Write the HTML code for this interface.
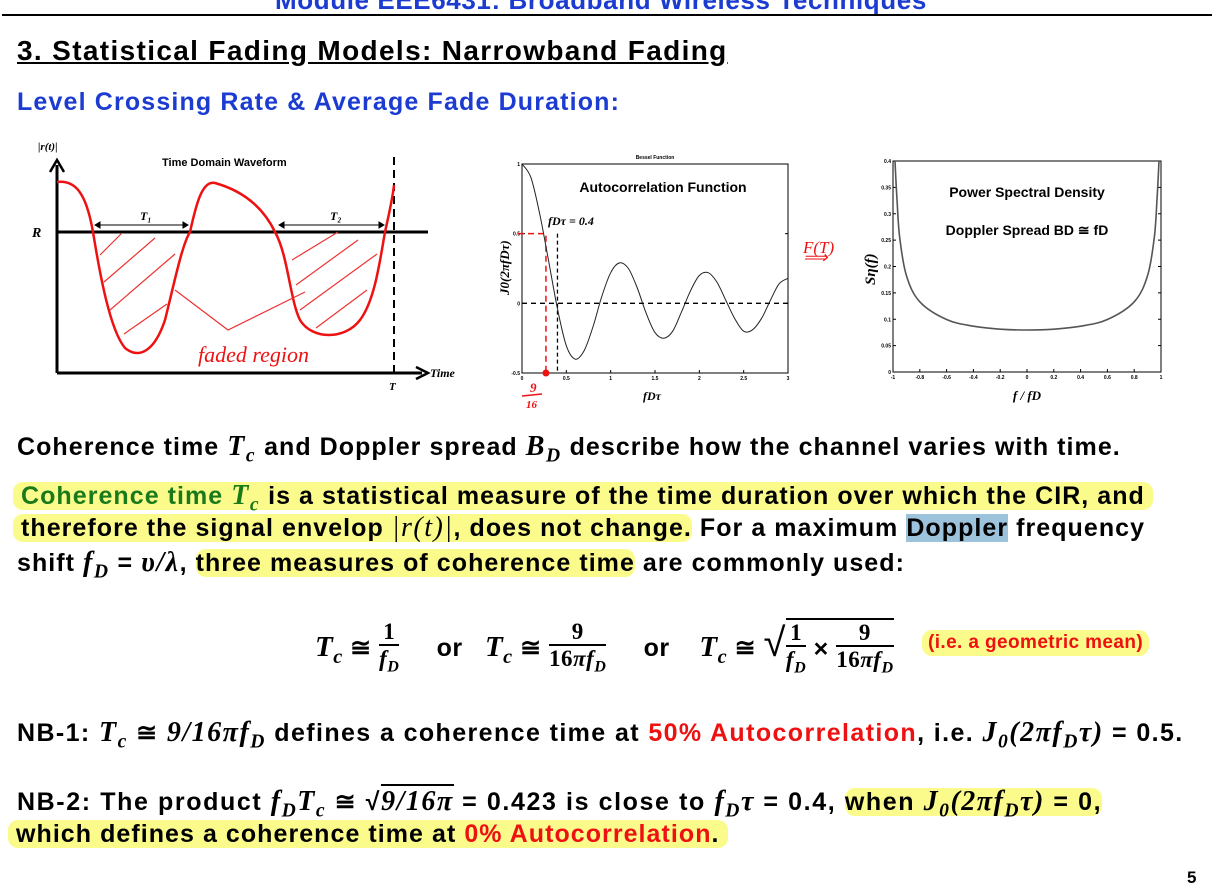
<!DOCTYPE html>
<html><head><meta charset="utf-8"><style>
body{margin:0;width:1214px;height:891px;background:#fff;position:relative;overflow:hidden;font-family:"Liberation Sans",Arial,sans-serif;font-weight:bold;color:#000}
.t{position:absolute;white-space:nowrap}
.b{font-size:25px;letter-spacing:1.05px}
.m{font-family:"Liberation Serif",serif;font-style:italic;font-weight:bold}
.b .m{font-size:1.12em;letter-spacing:1.5px}
.hl{background:#fbfb8c;border-radius:10px}
.g{color:#1a7a1a}.r{color:#ee1111}
sub{font-size:70%}
.frac{display:inline-block;vertical-align:middle;text-align:center;font-family:"Liberation Serif",serif;font-weight:bold;font-size:23px;line-height:25px}
.frac span{display:block}
.frac .n{border-bottom:2px solid #000;padding:0 3px}
</style></head><body>
<div class="t" style="left:275px;top:-15px;font-size:26px;letter-spacing:0.6px;color:#1b3bd1">Module EEE6431: Broadband Wireless Techniques</div>
<div style="position:absolute;left:2px;top:14px;width:1210px;height:2px;background:#000"></div>
<div class="t" style="left:17px;top:35px;font-size:28px;letter-spacing:1.35px;text-decoration:underline">3. Statistical Fading Models: Narrowband Fading</div>
<div class="t" style="left:17px;top:88px;font-size:25px;letter-spacing:1.15px;color:#1b3bd1">Level Crossing Rate &amp; Average Fade Duration:</div>

<svg style="position:absolute;left:0;top:135px" width="480" height="280" viewBox="0 135 480 280">
<text x="38" y="150" font-family="Liberation Serif" font-style="italic" font-weight="bold" font-size="11">|r(t)|</text>
<text x="162" y="166" font-size="11" font-weight="bold" font-family="Liberation Sans">Time Domain Waveform</text>
<line x1="57" y1="373" x2="57" y2="165" stroke="#000" stroke-width="3"/>
<path d="M50,172 L57,160 L64,172" fill="none" stroke="#000" stroke-width="2.5"/>
<line x1="57" y1="373" x2="422" y2="373" stroke="#000" stroke-width="3"/>
<path d="M416,367 L428,373 L416,379" fill="none" stroke="#000" stroke-width="2.5"/>
<text x="430" y="377" font-family="Liberation Serif" font-style="italic" font-weight="bold" font-size="12">Time</text>
<text x="389" y="390" font-family="Liberation Serif" font-style="italic" font-weight="bold" font-size="11">T</text>
<line x1="57" y1="232" x2="428" y2="232" stroke="#000" stroke-width="3"/>
<text x="32" y="237" font-family="Liberation Serif" font-style="italic" font-weight="bold" font-size="14">R</text>
<line x1="394" y1="157" x2="394" y2="378" stroke="#000" stroke-width="2" stroke-dasharray="8,5"/>
<g stroke="#000" stroke-width="1" fill="#000">
<line x1="95" y1="225" x2="188" y2="225"/><path d="M95,225 l5,-3 v6z M188,225 l-5,-3 v6z"/>
<line x1="279" y1="225" x2="384" y2="225"/><path d="M279,225 l5,-3 v6z M384,225 l-5,-3 v6z"/>
</g>
<text x="140" y="220" font-family="Liberation Serif" font-style="italic" font-weight="bold" font-size="12">T₁</text>
<text x="330" y="220" font-family="Liberation Serif" font-style="italic" font-weight="bold" font-size="12">T₂</text>
<path d="M57,182 C75,180 86,192 93,232 C100,275 110,330 125,348 C140,360 155,350 165,320 C175,280 182,245 190,232 C196,205 202,180 215,183 C240,190 262,205 275,232 C288,255 290,300 300,320 C312,340 345,340 360,320 C375,300 380,260 385,232 C390,210 393,195 394,185" fill="none" stroke="#ee1111" stroke-width="2.5"/>
<g stroke="#ee3333" stroke-width="1.2" fill="none">
<path d="M100,255 L122,233"/><path d="M104,282 L155,238"/><path d="M110,310 L175,254"/><path d="M124,334 L167,304"/>
<path d="M292,260 L338,232"/><path d="M296,285 L358,240"/><path d="M300,310 L377,254"/><path d="M316,328 L367,290"/>
<path d="M175,290 L228,330 L305,292"/>
</g>
<text x="198" y="362" font-family="Liberation Serif" font-style="italic" font-size="22" fill="#ee1111" font-weight="normal">faded region</text>
</svg>

<svg id="acf" style="position:absolute;left:490px;top:150px" width="330" height="260"></svg>
<svg id="psd" style="position:absolute;left:840px;top:150px" width="340" height="260"></svg>
<div class="t" style="left:803px;top:238px;font-size:17px;color:#ee1111;font-family:'Liberation Serif',serif;font-weight:normal;font-style:italic">F(T)<br><span style="position:relative;top:-10px">⟹</span></div>

<div class="t b" style="left:17px;top:431px">Coherence time <span class="m">T<sub>c</sub></span> and Doppler spread <span class="m">B<sub>D</sub></span> describe how the channel varies with time.</div>
<div class="t b" style="left:13px;top:480px"><span class="hl"><span class="g">&nbsp;Coherence time <span class="m">T<sub>c</sub></span></span> is a statistical measure of the time duration over which the CIR, and&nbsp;</span></div>
<div class="t b" style="left:13px;top:512px"><span class="hl">&nbsp;therefore the signal envelop <span class="m" style="font-weight:normal">|r(t)|</span>, does not change.</span> For a maximum <span style="background:#9dc3dc">Doppler</span> frequency</div>
<div class="t b" style="left:17px;top:547px">shift <span class="m">f<sub>D</sub></span> = <span class="m">υ/λ</span>, <span class="hl">three measures of coherence time</span> are commonly used:</div>

<div class="t" style="left:315px;top:616px;font-size:25px;line-height:54px;letter-spacing:0.5px">
<span class="m" style="font-size:29px">T<sub>c</sub></span> ≅ <span class="frac"><span class="n">1</span><span><i>f<sub>D</sub></i></span></span>
&nbsp;&nbsp;&nbsp; or &nbsp;&nbsp;<span class="m" style="font-size:29px">T<sub>c</sub></span> ≅ <span class="frac"><span class="n">9</span><span>16<i>πf<sub>D</sub></i></span></span>
&nbsp;&nbsp;&nbsp; or &nbsp;&nbsp;&nbsp;<span class="m" style="font-size:29px">T<sub>c</sub></span> ≅ <span style="font-size:40px;font-weight:normal">√</span><span style="display:inline-block;border-top:2px solid #000;vertical-align:middle"><span class="frac"><span class="n">1</span><span><i>f<sub>D</sub></i></span></span> × <span class="frac"><span class="n">9</span><span>16<i>πf<sub>D</sub></i></span></span></span>
</div>
<div class="t hl r" style="left:922px;top:630px;font-size:19px;letter-spacing:0.4px;padding:2px 6px">(i.e. a geometric mean)</div>

<div class="t b" style="left:17px;top:717px;letter-spacing:1.4px">NB-1: <span class="m">T<sub>c</sub></span> ≅ <span class="m">9/16πf<sub>D</sub></span> defines a coherence time at <span class="r">50% Autocorrelation</span>, i.e. <span class="m">J<sub>0</sub>(2πf<sub>D</sub>τ)</span> = 0.5.</div>
<div class="t b" style="left:17px;top:786px;letter-spacing:1.6px">NB-2: The product <span class="m">f<sub>D</sub>T<sub>c</sub></span> ≅ √<span style="border-top:2px solid #000" class="m">9/16π</span> = 0.423 is close to <span class="m">f<sub>D</sub>τ</span> = 0.4, <span class="hl">when <span class="m">J<sub>0</sub>(2πf<sub>D</sub>τ)</span> = 0,</span></div>
<div class="t b" style="left:8px;top:820px"><span class="hl">&nbsp;which defines a coherence time at <span class="r">0% Autocorrelation</span>.&nbsp;</span></div>
<div class="t" style="left:1187px;top:868px;font-size:17px">5</div>

<script>
const acfX=[0,0.1,0.2,0.3,0.4,0.5,0.6,0.7,0.8,0.9,1.0,1.1,1.2,1.3,1.4,1.5,1.6,1.7,1.8,1.9,2.0,2.1,2.2,2.3,2.4,2.5,2.6,2.7,2.8,2.9,3.0];
const acfY=[1,0.904,0.642,0.305,-0.04,-0.304,-0.40,-0.34,-0.17,0.05,0.22,0.29,0.25,0.11,-0.07,-0.21,-0.25,-0.20,-0.06,0.09,0.20,0.22,0.15,0.02,-0.11,-0.20,-0.19,-0.11,0.02,0.14,0.18];
const acfXTicks=["0","0.5","1","1.5","2","2.5","3"];
const acfYTicks=["-0.5","0","0.5","1"];
const psdX=[-0.985,-0.97,-0.95,-0.9,-0.8,-0.6,-0.4,-0.2,0,0.2,0.4,0.6,0.8,0.9,0.95,0.97,0.985];
const psdY=[0.40,0.327,0.255,0.183,0.133,0.0995,0.0868,0.0812,0.0796,0.0812,0.0868,0.0995,0.133,0.183,0.255,0.327,0.40];
const psdXTicks=["-1","-0.8","-0.6","-0.4","-0.2","0","0.2","0.4","0.6","0.8","1"];
const psdYTicks=["0","0.05","0.1","0.15","0.2","0.25","0.3","0.35","0.4"];
const NS='http://www.w3.org/2000/svg';
function mk(p,t,a,txt){const e=document.createElementNS(NS,t);for(const k in a)e.setAttribute(k,a[k]);if(txt!=null)e.textContent=txt;p.appendChild(e);return e;}
function smooth(P){let d='M'+P[0][0].toFixed(1)+','+P[0][1].toFixed(1);for(let i=0;i<P.length-1;i++){const p0=P[i-1]||P[i],p1=P[i],p2=P[i+1],p3=P[i+2]||p2;const c1=[p1[0]+(p2[0]-p0[0])/6,p1[1]+(p2[1]-p0[1])/6],c2=[p2[0]-(p3[0]-p1[0])/6,p2[1]-(p3[1]-p1[1])/6];d+=`C${c1[0].toFixed(1)},${c1[1].toFixed(1)} ${c2[0].toFixed(1)},${c2[1].toFixed(1)} ${p2[0].toFixed(1)},${p2[1].toFixed(1)}`;}return d;}
(function(){
const s=document.getElementById('acf');
const L=32,R=298,T=14,B=223;
const sx=v=>L+(v-0)/3*(R-L), sy=v=>B-(v+0.5)/1.5*(B-T);
mk(s,'text',{x:165,y:9,'font-size':5,'text-anchor':'middle','font-family':'Liberation Sans'},'Bessel Function');
const fr=mk(s,'rect',{x:L,y:T,width:R-L,height:B-T,fill:'none',stroke:'#000','stroke-width':1});


acfXTicks.forEach(t=>{const x=sx(+t);mk(s,'line',{x1:x,y1:B,x2:x,y2:B-3,stroke:'#000'});mk(s,'text',{x:x,y:B+7,'font-size':5,'text-anchor':'middle'},t);});
acfYTicks.forEach(t=>{const y=sy(+t);mk(s,'line',{x1:L,y1:y,x2:L+3,y2:y,stroke:'#000'});mk(s,'line',{x1:R,y1:y,x2:R-3,y2:y,stroke:'#000'});mk(s,'text',{x:L-2,y:y+2,'font-size':5,'text-anchor':'end'},t);});
mk(s,'line',{x1:L,y1:sy(0),x2:R,y2:sy(0),stroke:'#000','stroke-dasharray':'5,4','stroke-width':1.3});
mk(s,'line',{x1:sx(0.4),y1:sy(0.5),x2:sx(0.4),y2:B,stroke:'#000','stroke-dasharray':'4,3','stroke-width':1.3});
mk(s,'path',{d:`M${L-4},${sy(0.5)} L${sx(0.27)},${sy(0.5)} L${sx(0.27)},${B}`,fill:'none',stroke:'#ee1111','stroke-dasharray':'6,4','stroke-width':1.5});
mk(s,'circle',{cx:sx(0.27),cy:B,r:3.5,fill:'#ee1111'});
const ln=mk(s,'path',{d:smooth(acfX.map((x,i)=>[sx(x),sy(acfY[i])])),fill:'none',stroke:'#222','stroke-width':1});


mk(s,'text',{x:173,y:42,'font-size':14,'font-weight':'bold','text-anchor':'middle','font-family':'Liberation Sans'},'Autocorrelation Function');
mk(s,'text',{x:58,y:75,'font-size':12,'font-weight':'bold','font-family':'Liberation Serif','font-style':'italic'},'fDτ = 0.4');
mk(s,'text',{x:0,y:0,'font-size':13,'font-weight':'bold','font-family':'Liberation Serif','font-style':'italic',transform:'translate(19,145) rotate(-90)'},'J0(2πfDτ)');
mk(s,'text',{x:162,y:250,'font-size':12,'font-weight':'bold','font-family':'Liberation Serif','font-style':'italic','text-anchor':'middle'},'fDτ');
mk(s,'text',{x:40,y:242,'font-size':13,'fill':'#ee1111','font-family':'Liberation Serif','font-style':'italic'},'9');
mk(s,'line',{x1:32,y1:246,x2:52,y2:244,stroke:'#ee1111','stroke-width':1.5});
mk(s,'text',{x:36,y:258,'font-size':11,'fill':'#ee1111','font-family':'Liberation Serif','font-style':'italic'},'16');
})();
(function(){
const s=document.getElementById('psd');
const L=53,R=321,T=11,B=222;
const sx=v=>L+(v+1)/2*(R-L), sy=v=>B-v/0.4*(B-T);
const fr=mk(s,'rect',{x:L,y:T,width:R-L,height:B-T,fill:'none',stroke:'#000','stroke-width':1});


psdXTicks.forEach(t=>{const x=sx(+t);mk(s,'line',{x1:x,y1:B,x2:x,y2:B-3,stroke:'#000'});mk(s,'text',{x:x,y:B+7,'font-size':5,'text-anchor':'middle'},t);});
psdYTicks.forEach(t=>{const y=sy(+t);mk(s,'line',{x1:L,y1:y,x2:L+3,y2:y,stroke:'#000'});mk(s,'line',{x1:R,y1:y,x2:R-3,y2:y,stroke:'#000'});mk(s,'text',{x:L-2,y:y+2,'font-size':5,'text-anchor':'end'},t);});
const ln=mk(s,'path',{d:smooth(psdX.map((x,i)=>[sx(x),sy(psdY[i])])),fill:'none',stroke:'#555','stroke-width':1.6});


mk(s,'text',{x:187,y:47,'font-size':14,'font-weight':'bold','text-anchor':'middle','font-family':'Liberation Sans'},'Power Spectral Density');
mk(s,'text',{x:187,y:85,'font-size':14,'font-weight':'bold','text-anchor':'middle','font-family':'Liberation Sans'},'Doppler Spread BD ≅ fD');
mk(s,'text',{x:0,y:0,'font-size':15,'font-family':'Liberation Serif','font-style':'italic',transform:'translate(35,135) rotate(-90)'},'Sη(f)');
mk(s,'text',{x:187,y:250,'font-size':13,'font-weight':'bold','font-family':'Liberation Serif','font-style':'italic','text-anchor':'middle'},'f / fD');
})();
</script>
</body></html>
